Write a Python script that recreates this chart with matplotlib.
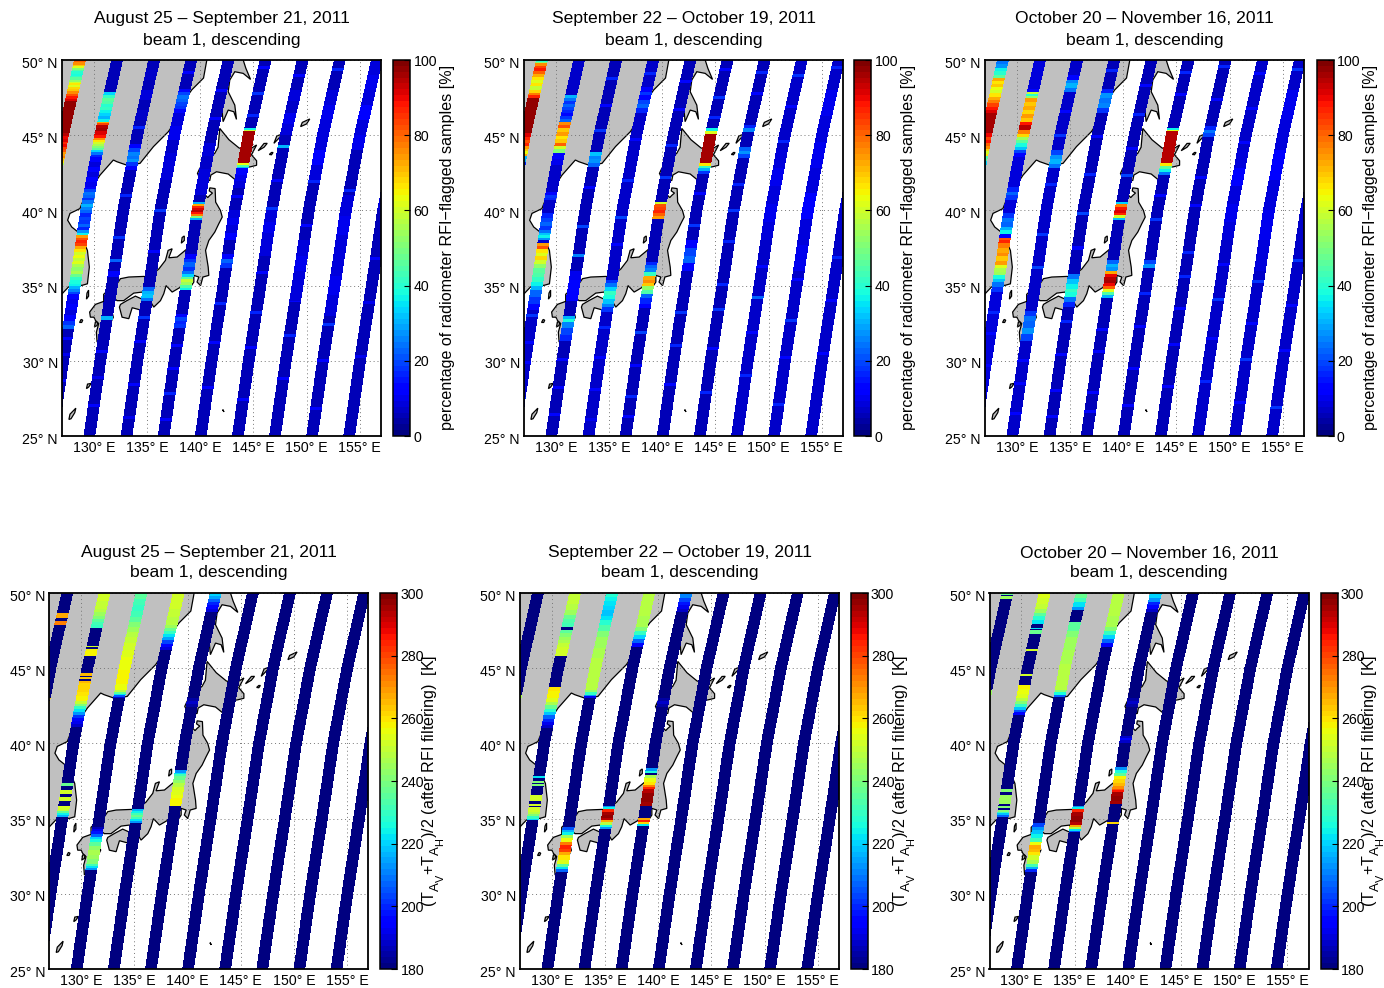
import numpy as np
import matplotlib
matplotlib.use('Agg')
import matplotlib.pyplot as plt
import matplotlib._mathtext as _mt
from matplotlib.colors import Normalize
from matplotlib.transforms import ScaledTranslation

plt.rcParams['font.family'] = ['Liberation Sans', 'DejaVu Sans']
plt.rcParams['mathtext.fontset'] = 'custom'
plt.rcParams['mathtext.rm'] = 'Liberation Sans'
plt.rcParams['mathtext.it'] = 'Liberation Sans'
plt.rcParams['mathtext.default'] = 'regular'
# the reference's subscripts are large and drop far below the baseline
_mt.SHRINK_FACTOR = 0.82
_mt.FontConstantsBase.sub1 = 0.65
_mt.FontConstantsBase.sub2 = 0.65
_mt.FontConstantsBase.subdrop = 0.65

W, H = 1384, 988

# ------------------------------------------------------------------ text
PERIODS = ['August 25 \u2013 September 21, 2011',
           'September 22 \u2013 October 19, 2011',
           'October 20 \u2013 November 16, 2011']
SUBTITLE = 'beam 1, descending'
LABEL_TOP = 'percentage of radiometer RFI\u2212flagged samples [%]'
LABEL_BOTTOM = r'(T$_{A_V}$+T$_{A_H}$)/2 (after RFI filtering)  [K]'
LON_TICKS = [130, 135, 140, 145, 150, 155]
LAT_TICKS = [25, 30, 35, 40, 45, 50]
CBAR_TOP_TICKS = [0, 20, 40, 60, 80, 100]
CBAR_BOTTOM_TICKS = [180, 200, 220, 240, 260, 280, 300]

# ------------------------------------------------------------------ swath geometry (lon at 25 N, lon shift along track)
TRACK_LON25 = [122.60, 126.09, 129.58, 133.07, 136.56, 140.05, 143.54, 147.03, 150.52, 154.01]
TRACK_LAT = [25, 30, 35, 40, 45, 50]
TRACK_SHIFT = [0.0, 1.02, 2.12, 3.18, 4.50, 6.09]
TRACK_WIDTH = 1.10

# ------------------------------------------------------------------ land outlines (lon, lat)
MAINLAND = [(140.62, 50.6), (140.62, 50), (140.31, 48.8), (139.21, 48.02), (138.43, 47.24), (137.64, 45.91),
            (137.01, 45.24), (135.6, 44.24), (134.34, 43.13), (133.25, 42.97), (132.15, 43.24), (131.83, 43.35),
            (130.58, 42.35), (129.64, 41.35), (129.0, 40.68), (128.69, 40.12), (127.75, 39.8), (127.53, 39.35),
            (127.91, 38.9), (128.69, 38.46), (129.39, 37.34), (129.57, 36.23), (129.39, 35.12), (128.85, 35.01),
            (128.22, 35.12), (127.6, 34.9), (127.0, 34.45), (126.3, 34.4), (126.3, 50.6)]
SAKHALIN = [(144.04, 50.6), (144.04, 50), (144.29, 49.45), (144.73, 48.71), (144.04, 49.11), (143.25, 49.22),
            (142.78, 48.67), (142.63, 47.89), (143.25, 47.0), (143.41, 46.05), (143.16, 46.56), (142.63, 46.67),
            (142.15, 45.9), (142.0, 47.0), (142.05, 48.0), (142.15, 49.0), (142.1, 50.6)]
HOKKAIDO = [(141.84, 45.45), (142.7, 44.7), (143.65, 44.15), (144.5, 44.0), (145.3, 44.35), (144.82, 43.7),
            (145.3, 43.3), (145.3, 43.0), (144.73, 42.9), (143.9, 42.8), (143.41, 41.97), (142.63, 42.42),
            (141.53, 42.57), (141.0, 42.35), (140.9, 42.0), (140.2, 41.85), (139.96, 42.13), (139.74, 42.46),
            (139.96, 42.8), (140.6, 43.35), (141.37, 43.8), (141.68, 44.2), (141.78, 45.0)]
HONSHU = [(140.25, 41.2), (140.7, 40.85), (140.9, 41.0), (141.15, 41.15), (140.85, 41.3), (140.9, 41.5),
          (141.4, 41.45), (141.45, 40.55), (141.9, 40.0), (142.07, 39.56), (141.75, 39.12), (141.37, 38.56),
          (140.81, 38.0), (140.5, 37.34), (140.75, 36.23), (140.81, 35.68), (140.25, 35.57), (140.03, 35.0),
          (139.7, 35.24), (139.87, 35.57), (139.4, 35.68), (139.4, 35.24), (138.9, 34.7), (138.4, 35.0),
          (137.36, 34.57), (136.79, 35.0), (136.57, 34.46), (136.26, 34.0), (135.63, 33.57), (135.1, 34.2),
          (134.69, 34.35), (134.53, 34.57), (133.75, 34.5), (132.8, 34.0), (132.18, 34.0), (132.0, 34.1),
          (130.92, 34.0), (130.92, 34.42), (131.5, 34.8), (132.18, 35.13), (132.5, 35.46), (133.28, 35.57),
          (134.7, 35.61), (135.16, 35.57), (136.1, 36.1), (136.73, 36.68), (136.98, 37.34), (137.36, 37.45),
          (137.04, 36.85), (137.83, 36.9), (138.77, 37.45), (139.55, 38.34), (140.03, 39.12), (140.12, 39.56),
          (139.9, 40.2), (140.03, 40.6)]
SHIKOKU = [(132.4, 33.57), (132.65, 32.9), (133.28, 32.8), (133.6, 33.53), (134.53, 33.35), (134.85, 34.0),
           (133.9, 34.3), (133.1, 34.0), (132.5, 33.75)]
KYUSHU = [(129.6, 33.24), (130.14, 33.75), (130.92, 33.95), (131.7, 33.24), (131.83, 32.9), (131.08, 31.8),
          (130.3, 31.25), (130.23, 31.9), (130.45, 32.47), (130.14, 32.69), (130.0, 32.9), (129.67, 32.9)]
ISLANDS = [
    [(138.22, 37.82), (138.3, 38.2), (138.5, 38.3), (138.5, 38.0)],          # Sado
    [(129.3, 34.1), (129.35, 34.5), (129.5, 34.7), (129.5, 34.3)],           # Tsushima
    [(128.65, 32.55), (128.8, 32.75), (128.95, 32.7), (128.85, 32.55)],      # Goto
    [(130.05, 32.25), (130.15, 32.6), (130.35, 32.55), (130.3, 32.35)],      # Amakusa
    [(129.3, 28.15), (129.4, 28.45), (129.75, 28.5), (129.5, 28.25)],        # Amami
    [(127.65, 26.1), (127.75, 26.45), (128.3, 26.85), (128.2, 26.55), (127.85, 26.15)],  # Okinawa
    [(142.1, 26.75), (142.2, 26.65), (142.22, 26.6), (142.15, 26.72)],       # Bonin
    [(145.45, 43.97), (146.0, 44.45), (146.3, 44.46), (146.0, 44.2)],        # Kunashir
    [(146.5, 43.72), (146.7, 43.85), (146.85, 43.85), (146.7, 43.7)],        # Shikotan
    [(146.93, 44.46), (147.2, 44.95), (147.74, 45.08), (147.4, 44.8)],       # Etorofu
    [(149.44, 45.57), (149.6, 45.85), (150.3, 46.08), (150.0, 45.75)],       # Urup
]

# ------------------------------------------------------------------ RFI percentage
# bands are (north lat, south lat, value or list of successive values running south)
A_BASE = [6, 6, 6, 6, 6, 6, 6, 6, 6, 5]
A_BANDS = {
    0: [(50, 49.58, [80, 76, 70]), (49.58, 49.24, [62, 50, 44]), (49.24, 48.69, [40, 38, 42, 46]),
        (48.69, 48.1, [52, 60, 66, 62, 68]), (48.1, 47.24, [70, 76, 82, 88, 92]), (47.24, 45.13, 98),
        (45.13, 44.0, [94, 90, 92, 86, 90, 84]), (44.0, 43.13, [82, 74, 78, 70, 66]), (43.13, 42.46, [56, 46, 40, 36]),
        (34.0, 32.4, [10, 14, 8, 20, 24])],
    1: [(47.9, 46.46, [34, 42, 46, 44, 40, 42, 36]), (46.46, 45.9, [34, 30, 36]), (45.9, 45.68, [72, 84]),
        (45.68, 44.8, [94, 96, 92, 88]), (44.8, 44.0, [76, 66, 60, 56, 50, 46]), (44.0, 43.57, [34, 24, 16]),
        (43.57, 41.57, [12, 9, 11, 8, 12, 10]), (41.57, 40.68, [14, 20, 24, 22, 18]), (40.68, 39.79, [24, 30, 26, 22]),
        (39.79, 38.68, [16, 20, 18, 22, 16]), (38.68, 38.34, [28, 36]), (38.34, 37.46, [74, 82, 86, 84, 72]),
        (37.46, 36.45, [66, 60, 64, 58, 62]), (36.45, 35.79, [56, 52, 56]), (35.79, 35.12, [48, 42, 38]),
        (35.12, 34.45, [36, 30, 26, 20]), (34.45, 32.67, [14, 10, 12, 9, 11]), (32.67, 32.12, [18, 22])],
    2: [(50, 46.0, [5, 7, 6, 8, 6, 7]), (44.4, 42.7, [12, 20, 26, 24, 28, 18, 12]), (36.0, 35.6, 14), (33.0, 32.7, 30)],
    3: [(48.1, 46.5, [14, 20, 24, 22, 20, 18, 14]), (34.9, 34.0, [22, 30, 32, 24]), (46.5, 42.0, [8, 10, 7, 9, 8])],
    4: [(40.57, 39.35, [30, 72, 86, 92, 94, 88, 78, 50, 30]), (37.1, 36.0, [12, 18, 22, 18]),
        (36.0, 34.68, [24, 34, 46, 58, 54, 44, 36]), (33.12, 32.2, [14, 20, 16, 18]), (44.5, 41.0, [9, 7, 9, 8])],
    5: [(45.5, 45.24, [36, 58]), (45.24, 43.13, 96), (43.13, 42.8, [64, 44, 32]), (42.8, 41.5, [14, 10, 8]),
        (37.1, 36.2, [14, 22, 18]), (40.0, 38.0, [8, 10, 9, 11])],
    6: [(44.35, 44.13, 30), (48.0, 45.0, [9, 7, 10, 8]), (40.0, 37.0, [9, 10, 8, 9])],
    7: [(48.0, 42.0, [9, 10, 8, 9, 11, 9]), (38.0, 34.0, [8, 10, 8, 9])],
    8: [(50, 44.0, [8, 10, 9, 11, 8, 10]), (41.0, 33.0, [9, 10, 8, 9, 10, 8])],
    9: [(50, 45.0, [12, 10, 9, 11, 9]), (45.0, 40.0, [9, 8, 10, 9])],
}
A_STREAKS = {
    0: [(33.5, 14), (32.2, 24), (30.8, 12), (29.2, 16)],
    1: [(33.0, 18), (31.5, 14), (30.4, 10), (28.7, 14), (27.2, 9), (26.1, 10)],
    2: [(48.4, 14), (46.8, 12), (45.5, 16), (41.0, 16), (38.2, 18), (36.7, 22), (30.6, 14), (28.9, 10), (27.0, 14)],
    3: [(49.2, 12), (44.5, 14), (42.1, 16), (40.0, 18), (37.3, 14), (32.9, 18), (31.3, 12), (28.4, 14), (26.2, 10)],
    4: [(48.0, 14), (46.1, 12), (44.0, 14), (42.6, 18), (31.0, 14), (29.5, 12), (27.8, 16), (26.1, 12)],
    5: [(49.5, 14), (47.8, 18), (46.3, 16), (40.9, 12), (38.7, 16), (33.8, 16), (31.2, 14), (28.2, 12)],
    6: [(49.0, 14), (47.2, 12), (42.0, 14), (40.1, 18), (37.6, 16), (35.9, 14), (33.2, 16), (30.9, 12), (27.4, 14)],
    7: [(49.4, 16), (47.0, 14), (44.8, 12), (41.9, 16), (39.0, 14), (36.6, 12), (34.0, 14), (31.7, 16), (28.8, 12)],
    8: [(49.1, 14), (46.7, 16), (44.1, 12), (41.3, 16), (38.1, 14), (35.5, 12), (32.4, 18), (30.0, 12), (26.8, 14)],
    9: [(49.7, 14), (48.7, 18), (45.8, 12), (42.9, 14), (40.2, 12), (36.8, 14), (33.9, 10), (30.3, 10)],
}
B_BASE = [6, 7, 6, 7, 6, 6, 6, 7, 7, 7]
B_BANDS = {
    0: [(50, 49.8, [40, 50]), (49.8, 49.1, [76, 84, 88, 80]), (49.1, 47.8, [72, 66, 62, 66, 58, 68]),
        (47.8, 47.46, [78, 86]), (47.46, 45.13, 97), (45.13, 44.27, [92, 86, 82, 86]), (44.27, 43.6, [74, 70, 64, 72]),
        (43.6, 42.46, [30, 16, 10])],
    1: [(47.68, 46.46, [30, 24, 18, 22, 20, 16]), (46.46, 45.9, [14, 18, 22]), (45.9, 44.27, [76, 82, 70, 74, 66, 70, 80]),
        (44.27, 43.8, [60, 50]), (43.8, 43.0, [14, 10]), (41.2, 40.68, [14, 18, 16]), (39.79, 38.68, [16, 20, 22, 18]),
        (38.68, 38.0, [24, 32, 36, 28]), (37.85, 37.46, [74, 82]), (37.46, 36.45, [66, 62, 68, 60]),
        (36.45, 35.57, [52, 46, 44]), (35.57, 34.68, [42, 36, 30]), (34.68, 33.35, [22, 18, 14])],
    2: [(43.9, 42.9, [32, 26, 28, 22]), (33.0, 32.55, [30, 38]), (32.55, 31.3, [26, 20, 16]), (36.0, 34.0, [10, 14, 12])],
    3: [(48.2, 46.5, [12, 18, 14, 20, 22, 16]), (35.4, 34.9, [18, 24]), (34.9, 34.1, [34, 42, 38]), (34.1, 33.25, [32, 26, 18])],
    4: [(40.57, 39.43, [60, 82, 84, 86, 80, 74]), (36.6, 35.9, [16, 22, 26]), (35.9, 34.46, [42, 72, 76, 70, 52, 44]),
        (34.46, 33.5, [22, 16, 12])],
    5: [(45.5, 45.1, [36, 62]), (45.1, 43.13, 96), (43.13, 42.46, [66, 42, 30, 18]), (38.0, 36.0, [12, 20, 22, 14])],
    6: [(45.7, 45.2, [16, 26]), (44.2, 43.5, [22, 28, 20])],
    7: [(44.0, 38.0, [9, 10, 8, 10, 9])],
    8: [(48.0, 36.0, [10, 8, 10, 9, 11, 8, 10])],
    9: [(50, 40.0, [10, 12, 9, 11, 10, 9])],
}
B_STREAKS = {
    0: [(33.8, 16), (32.4, 22), (30.6, 12), (28.9, 14)],
    1: [(33.0, 18), (31.2, 14), (29.9, 12), (27.5, 16)],
    2: [(48.8, 16), (47.0, 14), (45.3, 18), (41.5, 14), (38.9, 20), (37.0, 26), (30.1, 14), (28.2, 12), (26.4, 14)],
    3: [(49.1, 16), (44.7, 14), (42.0, 16), (39.5, 20), (37.7, 14), (32.2, 16), (30.2, 12), (28.1, 14), (26.1, 10)],
    4: [(48.6, 14), (46.7, 12), (44.3, 16), (42.2, 18), (31.9, 20), (29.7, 14), (27.6, 16), (26.3, 14)],
    5: [(49.4, 14), (47.5, 18), (46.2, 16), (41.1, 14), (39.0, 18), (33.2, 18), (31.0, 16), (28.4, 14)],
    6: [(49.2, 16), (47.8, 14), (41.7, 16), (40.0, 18), (37.9, 16), (35.1, 16), (33.4, 18), (30.8, 14), (27.9, 16)],
    7: [(49.0, 18), (46.9, 14), (44.6, 16), (42.1, 18), (39.3, 14), (36.3, 14), (34.2, 22), (31.9, 14), (29.0, 16)],
    8: [(49.5, 16), (46.4, 18), (44.3, 14), (41.6, 18), (38.4, 16), (35.4, 14), (32.7, 18), (30.2, 14), (27.1, 16)],
    9: [(49.8, 18), (48.2, 20), (45.5, 14), (43.0, 16), (40.4, 14), (36.9, 16), (34.0, 12), (30.5, 12)],
}
C_BASE = [7, 8, 7, 6, 6, 6, 6, 7, 7, 7]
C_BANDS = {
    0: [(50, 49.47, [24, 28]), (49.47, 48.8, [36, 40, 46]), (48.8, 48.0, [72, 66, 70, 64]), (48.0, 47.36, [60, 66, 72]),
        (47.36, 46.46, [78, 84, 88, 92]), (46.46, 45.13, 96), (45.13, 44.27, [90, 84, 88, 80]),
        (44.27, 43.6, [76, 68, 60, 66]), (43.6, 42.46, [44, 34, 28, 20])],
    1: [(48.1, 47.9, 14), (47.9, 47.46, [58, 40, 52]), (47.46, 45.9, [74, 70, 72, 68, 74, 70]),
        (45.9, 45.36, [88, 94]), (45.36, 44.87, [78, 68]), (44.87, 44.0, [54, 46, 38, 32]), (44.0, 43.57, [20, 14]),
        (41.57, 40.68, [16, 22, 18]), (39.79, 38.9, [18, 24, 22]), (38.9, 38.46, [30, 36]), (38.46, 38.17, 12),
        (38.17, 37.8, [82, 86]), (37.8, 36.36, [78, 72, 76, 70, 74]), (36.36, 35.68, [62, 56, 54]),
        (35.68, 35.24, [38, 32]), (35.24, 34.57, [24, 18])],
    2: [(49.0, 47.9, [14, 26, 30, 24]), (44.0, 42.8, [20, 28, 30, 24]), (33.3, 32.67, [18, 24]), (32.67, 31.3, [22, 28, 20])],
    3: [(48.1, 46.5, [16, 28, 24, 26, 18]), (35.8, 35.12, [24, 32]), (35.12, 34.23, [36, 42, 38]), (34.23, 33.57, [24, 16])],
    4: [(40.57, 39.35, [34, 78, 88, 92, 86, 60, 32]), (36.7, 36.0, [22, 30, 28]),
        (36.0, 34.8, [72, 90, 95, 96, 90, 80]), (34.8, 34.2, [62, 44, 30])],
    5: [(45.5, 45.24, [36, 62]), (45.24, 43.13, 95), (43.13, 42.35, [66, 46, 36, 24]), (36.7, 36.2, [20, 28])],
    6: [(45.6, 44.9, [16, 24, 20])],
    7: [(44.0, 38.0, [9, 11, 9, 10, 8])],
    8: [(48.0, 36.0, [10, 9, 11, 8, 10, 9])],
    9: [(50, 40.0, [12, 10, 11, 9, 10, 9])],
}
C_STREAKS = {
    0: [(33.4, 16), (32.0, 20), (30.2, 14), (28.8, 12)],
    1: [(33.2, 16), (31.8, 14), (29.7, 12), (27.8, 14)],
    2: [(48.0, 16), (46.6, 14), (45.0, 18), (41.7, 16), (38.4, 18), (36.2, 20), (30.0, 14), (28.5, 12), (26.5, 12)],
    3: [(49.3, 16), (44.9, 14), (42.4, 16), (39.8, 20), (37.5, 14), (32.6, 16), (30.4, 14), (28.0, 12), (26.3, 14)],
    4: [(48.3, 14), (46.4, 16), (44.1, 14), (42.3, 20), (32.1, 14), (30.6, 14), (27.9, 12), (26.6, 14)],
    5: [(49.2, 16), (47.7, 14), (41.0, 14), (39.4, 18), (34.5, 16), (32.3, 14), (29.5, 12), (27.0, 14)],
    6: [(49.6, 16), (47.4, 14), (42.2, 14), (40.3, 14), (37.2, 16), (35.6, 16), (33.5, 14), (31.1, 14), (28.3, 12)],
    7: [(49.1, 14), (46.8, 14), (44.5, 14), (42.0, 14), (39.6, 20), (36.4, 14), (34.1, 18), (31.5, 14), (28.6, 16)],
    8: [(49.4, 18), (46.5, 14), (44.2, 16), (41.4, 14), (38.6, 14), (35.3, 18), (32.5, 14), (30.1, 18), (27.2, 14)],
    9: [(49.6, 20), (48.4, 18), (45.6, 16), (42.6, 14), (40.1, 14), (36.7, 18), (33.7, 14), (30.7, 14), (26.9, 18)],
}

# ------------------------------------------------------------------ brightness temperature (K)
D_BANDS = {
    0: [(48.63, 48.36, 268), (48.14, 47.85, 273), (42.98, 42.88, 262), (42.78, 42.65, 262), (42.6, 42.4, 258)],
    1: [(50, 48.96, [252, 252, 251, 250]), (48.96, 47.65, [248, 244, 240, 236, 232, 230]), (47.52, 47.45, 240),
        (46.52, 46.42, 252), (46.24, 45.79, 258), (44.64, 44.5, 266), (44.4, 44.3, 264), (44.15, 43.98, 266),
        (43.98, 42.87, [262, 262, 260, 258]), (42.87, 41.1, [250, 240, 230, 222, 212, 202, 196, 192, 188]),
        (37.33, 37.2, 238), (36.9, 36.67, 252), (36.45, 36.2, 252), (35.85, 35.12, [254, 252, 248, 236, 224, 216])],
    2: [(50, 48.4, [236, 232, 230, 232]), (48.4, 47.08, [236, 240, 244, 248]), (47.08, 45.3, [250, 252, 254, 255]),
        (45.3, 43.53, [256, 257, 258, 256]), (43.53, 43.0, [248, 236, 222, 205, 190]),
        (34.46, 33.46, [186, 192, 198, 208, 220, 226]), (33.46, 32.0, [236, 242, 246, 244, 240]),
        (32.0, 31.53, [232, 222, 212])],
    3: [(50, 47.9, [253, 252, 251, 249]), (47.9, 46.2, [244, 238, 230, 222, 214, 204, 196, 190]),
        (35.65, 34.7, [216, 224, 232, 238, 232, 222, 212])],
    4: [(50, 49.4, [220, 214, 208]), (49.4, 48.75, [200, 195, 190]), (42.98, 42.43, [184, 188, 184]),
        (38.22, 37.78, [212, 222, 232]), (37.78, 36.89, [238, 243, 248, 252]), (36.89, 35.83, [254, 256, 258, 258])],
}
E_BANDS = {
    0: [(43.2, 42.4, 246)],
    1: [(50, 48.85, [251, 250, 248]), (48.85, 47.75, [244, 238, 234, 232]), (47.55, 46.68, [236, 240, 244, 247]),
        (46.68, 45.8, [250, 252, 253]), (43.76, 42.76, [259, 258, 258, 254]), (42.76, 41.0, [246, 238, 228, 218, 208, 200, 192, 188]),
        (37.8, 37.7, 222), (37.5, 37.42, 240), (37.3, 37.22, 240), (36.6, 36.2, 252), (35.95, 35.85, 252),
        (35.75, 34.88, [252, 252, 248, 240, 230, 220])],
    2: [(50, 49.5, [228, 224]), (49.5, 48.2, [222, 220, 218, 222]), (48.2, 47.08, [228, 234, 240]),
        (47.08, 43.53, [244, 246, 248, 248, 248]), (43.53, 43.0, [242, 230, 212, 192]),
        (34.46, 33.9, [206, 216, 224]), (33.9, 33.46, [244, 256]), (33.46, 32.8, [272, 284, 280]),
        (32.8, 32.0, [268, 260, 254]), (32.0, 31.45, [236, 222, 208])],
    3: [(50, 47.75, [249, 248, 247]), (47.75, 46.4, [240, 230, 220, 208, 196]), (35.87, 35.65, [212, 224]),
        (35.65, 34.88, [284, 296, 298, 294]), (34.88, 34.32, [268, 248, 226, 212])],
    4: [(50, 49.4, [210, 204]), (49.4, 48.75, [198, 192, 188]), (42.98, 42.43, [184, 188, 184]),
        (38.33, 38.0, [212, 226]), (37.9, 37.23, [246, 256, 260]), (37.23, 37.0, [272, 284]),
        (37.0, 35.83, [294, 298, 298, 296]), (35.05, 34.88, 268), (34.88, 34.66, [284, 262]), (34.66, 34.5, 222)],
}
F_BANDS = {
    0: [(50, 49.89, 238), (49.78, 49.62, 245), (43.54, 42.54, 245)],
    1: [(50, 48.96, [254, 252, 250]), (48.96, 47.97, [244, 236, 228, 222]), (47.7, 47.6, 222), (47.53, 47.3, 238),
        (46.24, 46.15, 252), (44.6, 44.5, 252), (43.85, 42.78, [258, 256, 254, 248]), (42.78, 41.9, [240, 230, 218, 206, 194]),
        (37.0, 36.8, 240), (36.55, 36.0, 245), (35.85, 35.7, 240), (35.6, 35.45, 240), (35.45, 35.12, [230, 218, 208])],
    2: [(50, 49.4, [238, 232]), (49.4, 48.85, [222, 212]), (48.05, 47.85, 236), (47.85, 47.08, [236, 240]),
        (47.08, 45.3, [244, 247]), (45.3, 43.53, [248, 249, 248]), (43.53, 43.1, [240, 226, 208]),
        (34.7, 34.23, [204, 212]), (34.23, 33.46, [218, 224, 232]), (33.46, 32.8, [256, 268, 266]),
        (32.8, 32.0, [260, 252, 246]), (32.0, 31.45, [232, 216, 200])],
    3: [(50, 47.75, [249, 248, 247]), (47.75, 46.4, [240, 230, 220, 208, 196]), (35.87, 35.65, [212, 224]),
        (35.65, 34.55, [284, 296, 298, 298, 294]), (34.55, 34.1, [268, 248, 222, 206])],
    4: [(50, 49.4, [220, 212]), (49.4, 48.75, [200, 194, 188]), (42.98, 42.43, [184, 188, 184]), (40.48, 40.04, [188, 196, 188]),
        (38.4, 38.0, [212, 226]), (38.0, 37.78, 236), (37.78, 37.0, [258, 262, 266, 270]), (37.0, 36.78, [278, 286]),
        (36.78, 35.94, [296, 298, 296]), (34.8, 34.67, 262)],
}
TEMP_BASE = 180

# ------------------------------------------------------------------ figure layout (pixels)
AX_W, AX_H = 319, 376
CB_W = 17
ROW_TOP = {'y0': 60, 'lefts': [62, 524, 985], 'cb': [393, 854.5, 1316.5], 'label_x': [447, 908.5, 1370], 'title_y': (18.5, 40)}
ROW_BOTTOM = {'y0': 593, 'lefts': [49.3, 520, 989.5], 'cb': [380, 850.5, 1320.5], 'label_x': [434, 905, 1374], 'title_y': (553, 573)}

LAT_EDGES = np.arange(25, 50.0001, 0.05)
LAT_MID = 0.5 * (LAT_EDGES[1:] + LAT_EDGES[:-1])
CMAP = plt.get_cmap('jet', 64)


def profile(base, bands, streaks):
    v = np.full(LAT_MID.shape, float(base))
    for lat, val in streaks:
        v[np.abs(LAT_MID - lat) < 0.09] = val
    for north, south, val in bands:
        vals = np.atleast_1d(val)
        step = (north - south) / len(vals)
        for j, x in enumerate(vals):
            v[(LAT_MID <= north - j * step) & (LAT_MID > north - (j + 1) * step)] = x
    return v


def rect(x, y, w, h):
    return [x / W, 1 - (y + h) / H, w / W, h / H]


def deg(v, hemi):
    return f'{v}\u00b0 {hemi}'


def panel(fig, left, top, cb_left, label_x, title, title_y, bases, bands, streaks, norm, cticks, label, label_y, label_fs):
    ax = fig.add_axes(rect(left, top, AX_W, AX_H))
    ax.set_xlim(127, 157)
    ax.set_ylim(25, 50)
    for poly in [MAINLAND, SAKHALIN, HOKKAIDO, HONSHU, SHIKOKU, KYUSHU] + ISLANDS:
        p = np.array(poly)
        ax.fill(p[:, 0], p[:, 1], facecolor='#c0c0c0', edgecolor='black', lw=0.9, zorder=1)
    ax.set_xticks(LON_TICKS)
    ax.set_yticks(LAT_TICKS)
    ax.set_xticklabels([deg(v, 'E') for v in LON_TICKS], fontsize=10.2)
    ax.set_yticklabels([deg(v, 'N') for v in LAT_TICKS], fontsize=10.2)
    ax.tick_params(direction='in', length=0)
    ax.tick_params(axis='x', pad=3.5)
    ax.tick_params(axis='y', pad=3)
    down = ScaledTranslation(0, -1.5 / 72, fig.dpi_scale_trans)
    for lab in ax.get_yticklabels():
        lab.set_transform(lab.get_transform() + down)
    ax.grid(True, ls=(0, (1, 3)), color='#777777', lw=0.7)
    ax.set_axisbelow(False)
    for ln in ax.get_xgridlines() + ax.get_ygridlines():
        ln.set_zorder(2)
    mesh = None
    for k, lon25 in enumerate(TRACK_LON25):
        centre = lon25 + np.interp(LAT_EDGES, TRACK_LAT, TRACK_SHIFT)
        X = np.column_stack([centre - TRACK_WIDTH / 2, centre + TRACK_WIDTH / 2])
        Y = np.column_stack([LAT_EDGES, LAT_EDGES])
        vals = profile(bases[k], bands.get(k, []), streaks.get(k, []))[:, None]
        mesh = ax.pcolormesh(X, Y, vals, cmap=CMAP, norm=norm, shading='flat', zorder=3, rasterized=True)
    for s in ax.spines.values():
        s.set_linewidth(1.3)
        s.set_zorder(5)
    cx = (left + AX_W / 2) / W
    fig.text(cx, 1 - title_y[0] / H, title, ha='center', va='center', fontsize=12.6)
    fig.text(cx, 1 - title_y[1] / H, SUBTITLE, ha='center', va='center', fontsize=12.6)

    cax = fig.add_axes(rect(cb_left, top, CB_W, AX_H))
    cb = fig.colorbar(mesh, cax=cax)
    cb.set_ticks(cticks)
    cb.set_ticklabels([str(t) for t in cticks], fontsize=10.2)
    cax.tick_params(direction='in', length=4, width=0.8, pad=2.5)
    cb.outline.set_linewidth(1.1)
    fig.text(label_x / W, 1 - label_y / H, label, rotation=90, ha='center', va='center', fontsize=label_fs)


fig = plt.figure(figsize=(W / 100, H / 100), dpi=100, facecolor='white')
top_norm = Normalize(0, 100)
bot_norm = Normalize(180, 300)
TOP_DATA = [(A_BASE, A_BANDS, A_STREAKS), (B_BASE, B_BANDS, B_STREAKS), (C_BASE, C_BANDS, C_STREAKS)]
BOTTOM_DATA = [D_BANDS, E_BANDS, F_BANDS]
for i in range(3):
    b, bd, st = TOP_DATA[i]
    panel(fig, ROW_TOP['lefts'][i], ROW_TOP['y0'], ROW_TOP['cb'][i], ROW_TOP['label_x'][i], PERIODS[i], ROW_TOP['title_y'],
          b, bd, st, top_norm, CBAR_TOP_TICKS, LABEL_TOP, 247, 11.6)
    panel(fig, ROW_BOTTOM['lefts'][i], ROW_BOTTOM['y0'], ROW_BOTTOM['cb'][i], ROW_BOTTOM['label_x'][i], PERIODS[i], ROW_BOTTOM['title_y'],
          [TEMP_BASE] * 10, BOTTOM_DATA[i], {}, bot_norm, CBAR_BOTTOM_TICKS, LABEL_BOTTOM, 781, 11.6)
fig.savefig('out.png', dpi=100)
